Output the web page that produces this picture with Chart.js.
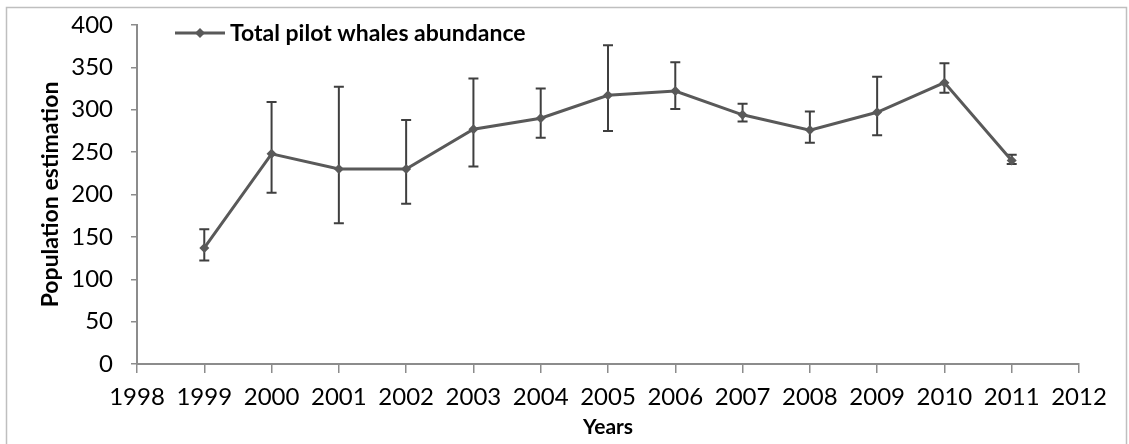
<!DOCTYPE html>
<html>
<head>
<meta charset="utf-8">
<script src="https://cdn.jsdelivr.net/npm/chart.js@4.4.0/dist/chart.umd.min.js"></script>
<style>
  html, body { margin: 0; padding: 0; background: #fff; }
</style>
</head>
<body>
<canvas id="myChart" width="1129" height="444"></canvas>
<script>
  // data
  var years     = [1999, 2000, 2001, 2002, 2003, 2004, 2005, 2006, 2007, 2008, 2009, 2010, 2011];
  var abundance = [137, 248, 230, 230, 277, 290, 317, 322, 294, 276, 297, 332, 240];
  var errUpper  = [159, 309, 327, 288, 337, 325, 376, 356, 307, 298, 339, 355, 247];
  var errLower  = [122, 202, 166, 189, 233, 267, 275, 301, 286, 261, 270, 320, 236];
  var seriesName = "Total pilot whales abundance";
  var xRange = [1998, 2012];
  var yRange = [0, 400];

  var lineColor = "#595959";
  var axisColor = "#8c8c8c";

  var points = years.map(function(y, i){ return { x: y, y: abundance[i] }; });

  // white background + outer frame
  var frame = {
    id: "frame",
    beforeDraw: function(chart){
      var ctx = chart.ctx;
      ctx.save();
      ctx.fillStyle = "#fff";
      ctx.fillRect(0, 0, chart.width, chart.height);
      ctx.strokeStyle = "#bfbfbf";
      ctx.lineWidth = 1.5;
      ctx.strokeRect(6.5, 7.5, chart.width - 9, chart.height + 20);
      ctx.restore();
    }
  };

  // vertical error bars with caps
  var errorBars = {
    id: "errorBars",
    beforeDatasetsDraw: function(chart){
      var ctx = chart.ctx, xs = chart.scales.x, ys = chart.scales.y;
      ctx.save();
      ctx.strokeStyle = "#3f3f3f";
      ctx.lineWidth = 2;
      years.forEach(function(yr, i){
        var px = xs.getPixelForValue(yr);
        var top = ys.getPixelForValue(errUpper[i]);
        var bot = ys.getPixelForValue(errLower[i]);
        ctx.beginPath();
        ctx.moveTo(px, top); ctx.lineTo(px, bot);
        ctx.moveTo(px - 5, top); ctx.lineTo(px + 5, top);
        ctx.moveTo(px - 5, bot); ctx.lineTo(px + 5, bot);
        ctx.stroke();
      });
      ctx.restore();
    }
  };

  // legend inside the plot, top left
  var legendBox = {
    id: "legendBox",
    afterDraw: function(chart){
      var ctx = chart.ctx, a = chart.chartArea;
      var x0 = a.left + 38, y0 = a.top + 8;
      ctx.save();
      ctx.strokeStyle = lineColor;
      ctx.lineWidth = 3;
      ctx.beginPath();
      ctx.moveTo(x0, y0); ctx.lineTo(x0 + 50, y0);
      ctx.stroke();
      ctx.fillStyle = lineColor;
      ctx.beginPath();
      ctx.moveTo(x0 + 25, y0 - 5); ctx.lineTo(x0 + 30, y0);
      ctx.lineTo(x0 + 25, y0 + 5); ctx.lineTo(x0 + 20, y0);
      ctx.closePath(); ctx.fill();
      ctx.fillStyle = "#000";
      ctx.font = "bold 23px Lato";
      ctx.textBaseline = "middle";
      ctx.fillText(chart.data.datasets[0].label, x0 + 55, y0 + 1);
      ctx.restore();
    }
  };

  Chart.defaults.font.family = "Lato";
  Chart.defaults.color = "#000";

  var ctx = document.getElementById("myChart").getContext("2d");
  var myChart = new Chart(ctx, {
    type: "line",
    data: {
      datasets: [{
        label: seriesName,
        data: points,
        borderColor: lineColor,
        borderWidth: 3,
        backgroundColor: lineColor,
        pointStyle: "rectRot",
        pointRadius: 5,
        pointBorderWidth: 0,
        tension: 0
      }]
    },
    options: {
      responsive: false,
      animation: false,
      layout: { padding: { left: 0, top: 25, right: 50, bottom: 0 } },
      plugins: { legend: { display: false }, tooltip: { enabled: false } },
      scales: {
        x: {
          type: "linear",
          min: xRange[0],
          max: xRange[1],
          afterFit: function(s){ s.height = 80; s.paddingLeft = 0; s.paddingRight = 0; },
          grid: { drawOnChartArea: false, tickLength: 9, color: axisColor, lineWidth: 1.5 },
          border: { color: axisColor, width: 2 },
          ticks: {
            stepSize: 1,
            padding: 10,
            font: { size: 24 },
            callback: function(v){ return String(v); }
          },
          title: { display: true, text: "Years", font: { size: 21, weight: "bold" }, padding: { top: 0, bottom: 4 } }
        },
        y: {
          min: yRange[0],
          max: yRange[1],
          afterFit: function(s){ s.width = 137; s.paddingTop = 0; s.paddingBottom = 0; },
          grid: { drawOnChartArea: false, tickLength: 6, color: axisColor, lineWidth: 1.5 },
          border: { color: axisColor, width: 2 },
          ticks: { stepSize: 50, padding: 18, font: { size: 24 } },
          title: { display: true, text: "Population estimation", font: { size: 23, weight: "bold" }, padding: { top: 37, bottom: 0 } }
        }
      }
    },
    plugins: [frame, errorBars, legendBox]
  });
</script>
</body>
</html>
